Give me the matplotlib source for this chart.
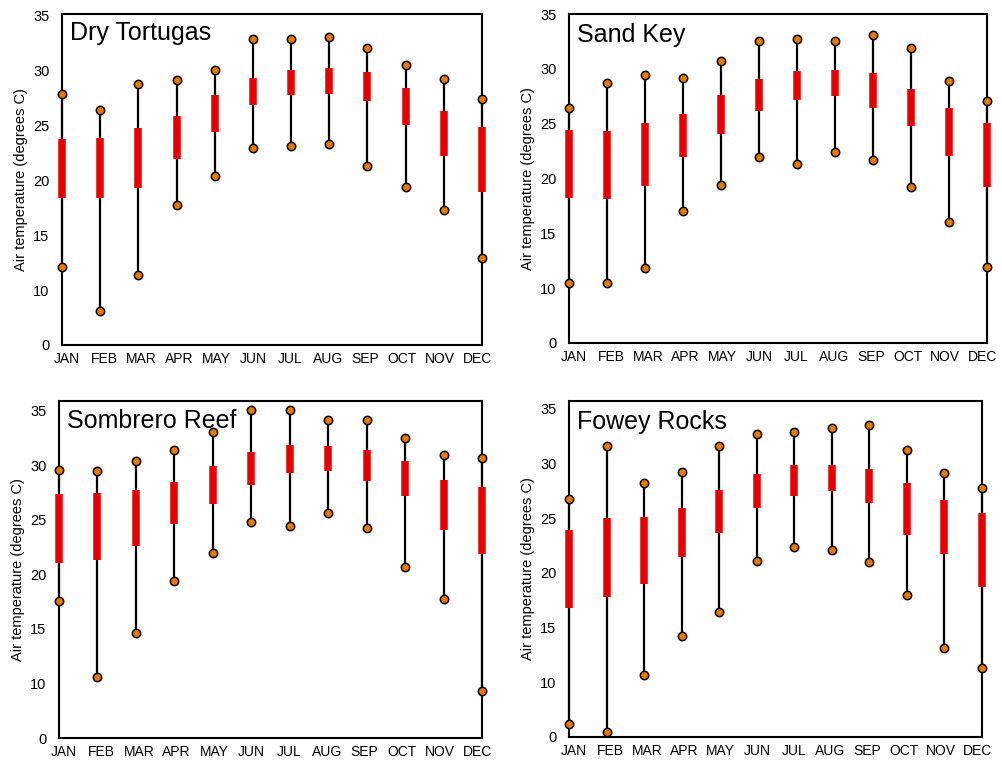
import matplotlib
matplotlib.use("Agg")
import matplotlib.pyplot as plt
import numpy as np

plt.rcParams['font.family'] = ['Liberation Sans', 'DejaVu Sans']

months = ["JAN", "FEB", "MAR", "APR", "MAY", "JUN", "JUL", "AUG", "SEP", "OCT", "NOV", "DEC"]
ytick_pos = [5, 10, 15, 20, 25, 30, 35]
ytick_labels = ["0", "10", "15", "20", "25", "30", "35"]

# Dry Tortugas
dt_max = [27.8, 26.4, 28.7, 29.1, 30.05, 32.8, 32.8, 33.0, 32.0, 30.45, 29.2, 27.4]
dt_min = [12.1, 8.05, 11.4, 17.7, 20.4, 22.9, 23.1, 23.3, 21.25, 19.35, 17.3, 12.9]
dt_q3 = [23.7, 23.8, 24.7, 25.8, 27.75, 29.3, 30.05, 30.2, 29.8, 28.4, 26.3, 24.8]
dt_q1 = [18.35, 18.35, 19.3, 21.9, 24.4, 26.85, 27.7, 27.85, 27.15, 25.0, 22.2, 18.9]

# Sand Key
sk_max = [26.4, 28.7, 29.4, 29.2, 30.7, 32.5, 32.7, 32.5, 33.05, 31.9, 28.85, 27.1]
sk_min = [10.5, 10.5, 11.85, 17.0, 19.45, 21.95, 21.3, 22.4, 21.7, 19.2, 16.0, 11.9]
sk_q3 = [24.4, 24.3, 25.1, 25.9, 27.6, 29.05, 29.8, 29.9, 29.6, 28.15, 26.4, 25.1]
sk_q1 = [18.2, 18.1, 19.3, 21.95, 24.05, 26.2, 27.15, 27.5, 26.4, 24.75, 22.05, 19.2]

# Sombrero Reef
sr_max = [29.6, 29.5, 30.4, 31.4, 33.1, 35.05, 35.1, 34.2, 34.2, 32.55, 30.95, 30.7]
sr_min = [17.55, 10.6, 14.6, 19.4, 22.0, 24.85, 24.4, 25.6, 24.3, 20.7, 17.7, 9.3]
sr_q3 = [27.4, 27.5, 27.7, 28.5, 29.9, 31.25, 31.9, 31.8, 31.45, 30.4, 28.7, 28.05]
sr_q1 = [21.05, 21.3, 22.6, 24.6, 26.5, 28.2, 29.3, 29.45, 28.6, 27.2, 24.1, 21.9]

# Fowey Rocks
fr_max = [26.75, 31.55, 28.2, 29.25, 31.55, 32.7, 32.9, 33.25, 33.55, 31.25, 29.15, 27.75]
fr_min = [6.15, 5.45, 10.7, 14.25, 16.4, 21.1, 22.35, 22.1, 20.95, 18.0, 13.1, 11.35]
fr_q3 = [23.95, 25.0, 25.1, 25.9, 27.6, 29.0, 29.85, 29.85, 29.45, 28.25, 26.7, 25.45]
fr_q1 = [16.8, 17.8, 19.0, 21.45, 23.6, 25.9, 27.05, 27.45, 26.4, 23.45, 21.7, 18.7]

W, H = 1003, 761
fig = plt.figure(figsize=(W / 100, H / 100), dpi=100)

panels = [
    ("Dry Tortugas", dt_min, dt_max, dt_q1, dt_q3, (62, 14, 482, 345), (5, 35.1), 19),
    ("Sand Key", sk_min, sk_max, sk_q1, sk_q3, (569, 14, 987, 343), (5, 35.0), 21),
    ("Sombrero Reef", sr_min, sr_max, sr_q1, sr_q3, (59, 401, 482, 738), (5, 35.9), 20),
    ("Fowey Rocks", fr_min, fr_max, fr_q1, fr_q3, (569, 401, 982, 737), (5, 35.7), 21),
]

for title, vmin, vmax, q1, q3, (l, t, r, b), ylim, toff in panels:
    ax = fig.add_axes([l / W, 1 - b / H, (r - l) / W, (b - t) / H])
    x = np.arange(len(months))
    ax.vlines(x, vmin, vmax, colors="black", linewidth=1.6, zorder=3, clip_on=False)
    ax.vlines(x, q1, q3, colors="#e60000", linewidth=5.4, zorder=4, clip_on=False)
    ax.plot(x, vmax, "o", color="#e87a00", markeredgecolor="black",
            markeredgewidth=1.1, markersize=6, zorder=5, clip_on=False)
    ax.plot(x, vmin, "o", color="#e87a00", markeredgecolor="black",
            markeredgewidth=1.1, markersize=6, zorder=5, clip_on=False)
    ax.set_xlim(0, 11)
    ax.set_ylim(*ylim)
    # month labels sit slightly inward of the points, as in the reference
    ax.set_xticks(np.linspace(0.13, 10.87, len(months)))
    ax.set_xticklabels(months, fontsize=10)
    ax.set_yticks(ytick_pos)
    ax.set_yticklabels(ytick_labels, fontsize=10.5)
    ax.tick_params(axis="both", length=0)
    ax.tick_params(axis="y", pad=9)
    ax.tick_params(axis="x", pad=5)
    ax.set_ylabel("Air temperature (degrees C)", fontsize=10.5, labelpad=4)
    for s in ax.spines.values():
        s.set_linewidth(1.5)
        s.set_color("black")
        s.set_zorder(2)
    ax.annotate(title, xy=(0, 1), xycoords="axes fraction",
                xytext=(8, -toff), textcoords="offset pixels",
                fontsize=18, ha="left", va="center")

fig.savefig("out.png", dpi=100)
